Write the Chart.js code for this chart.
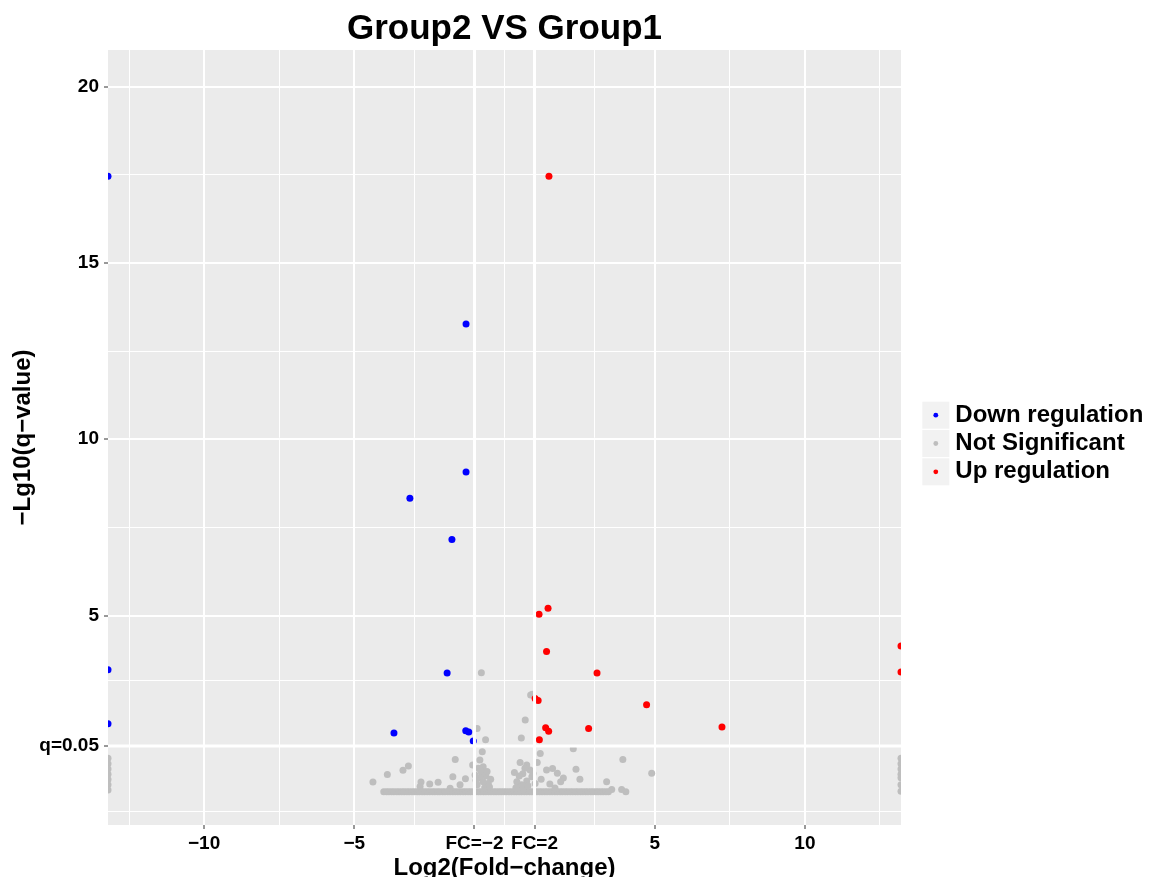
<!DOCTYPE html>
<html>
<head>
<meta charset="utf-8">
<title>Group2 VS Group1</title>
<script src="https://cdn.jsdelivr.net/npm/chart.js@4.4.1/dist/chart.umd.min.js"></script>
<style>
  html, body { margin: 0; padding: 0; background: #fff; }
  canvas { display: block; }
</style>
</head>
<body>
<canvas id="volcano" width="1149" height="877"></canvas>
<script>
const FONT = "'Liberation Sans', Arial, Helvetica, sans-serif";

// axis ranges
const xRange = [-13.2, 13.2];
const yRange = [-0.94, 21.04];

// cut-offs: log2(FC) = +-1 and -log10(0.05)
const fcCutoffs = [-1, 1];
const qCutoff = 1.301;

// tick marks (major carry labels, minor only get a grid line)
const xMajorTicks = [-10, -5, -1, 1, 5, 10];
const xMajorLabels = ['−10', '−5', 'FC=−2', 'FC=2', '5', '10'];
const xMinorTicks = [-12.5, -7.5, -3, 0, 3, 7.5, 12.5];
const yMajorTicks = [1.301, 5, 10, 15, 20];
const yMajorLabels = ['q=0.05', '5', '10', '15', '20'];
const yMinorTicks = [-0.55, 3.15, 7.5, 12.5, 17.5];

// Down regulation
const downX = [-13.2, -1.28, -1.28, -3.15, -1.75, -13.2, -1.91, -13.2, -3.68, -1.29, -1.19, -1.04];
const downY = [17.46, 13.27, 9.07, 8.33, 7.16, 3.46, 3.37, 1.93, 1.67, 1.73, 1.70, 1.44];

// Up regulation
const upX = [1.48, 1.45, 1.15, 1.40, 13.2, 13.2, 3.08, 4.73, 1.02, 1.12, 1.37, 1.47, 2.80, 7.24, 1.16];
const upY = [17.46, 5.21, 5.04, 3.98, 4.14, 3.40, 3.37, 2.47, 2.65, 2.59, 1.82, 1.72, 1.80, 1.84, 1.48];

// Not significant (scattered)
const notSigX = [
  -0.77, 0.87, 0.93, 0.69, -0.91, -0.63, 0.56, 2.29, -0.74, 1.19,
  -1.64, 3.94, 4.90, -3.20, -3.38, -3.90, -4.38, -2.78, -2.49, -2.21,
  -1.72, -1.30, -1.06, -0.82, -0.71, -0.87, -0.76, -0.62, -0.46, -0.54,
  -0.82, -0.98, -0.71, -0.91, -1.48, -1.81, -2.81,
  0.52, 0.74, 1.09, 0.85, 0.68, 0.61, 0.91, 0.41, 0.74, 0.57, 1.02, 0.46,
  1.40, 1.60, 1.76, 1.22, 1.51, 1.96, 1.87, 2.38, 2.51, 3.40, 1.68,
  3.57, 3.90, 4.04,
  -0.58, -0.66, -0.79, -0.95, 0.38, 0.49, 0.63, 0.78, 0.95, -0.50, 0.33,
  -13.2, -13.2, -13.2, -13.2, -13.2, -13.2, -13.2,
  13.2, 13.2, 13.2, 13.2, 13.2, 13.2, 13.2
];
const notSigY = [
  3.38, 2.75, 2.77, 2.04, 1.80, 1.48, 1.53, 1.22, 1.14, 1.09,
  0.92, 0.92, 0.53, 0.73, 0.61, 0.49, 0.28, 0.28, 0.22, 0.27,
  0.43, 0.37, 0.76, 0.90, 0.71, 0.67, 0.51, 0.45, 0.36, 0.24,
  0.39, 0.48, 0.29, 0.20, 0.20, 0.10, 0.15,
  0.83, 0.76, 0.83, 0.62, 0.67, 0.51, 0.43, 0.29, 0.31, 0.20, 0.24, 0.15,
  0.62, 0.66, 0.53, 0.36, 0.22, 0.39, 0.29, 0.64, 0.36, 0.29, 0.11,
  0.07, 0.07, 0.00,
  0.58, 0.12, 0.60, 0.33, 0.12, 0.45, 0.10, 0.17, 0.52, 0.14, 0.55,
  0.95, 0.80, 0.65, 0.50, 0.35, 0.20, 0.05,
  0.95, 0.80, 0.65, 0.50, 0.40, 0.20, 0.02
];

// Not significant: the dense row at q-value ~ 1
const notSigBaseX = [
  -4.02, -3.93, -3.85, -3.76, -3.68, -3.59, -3.51, -3.42, -3.34, -3.25,
  -3.17, -3.08, -3.00, -2.91, -2.83, -2.74, -2.66, -2.57, -2.49, -2.40,
  -2.32, -2.23, -2.15, -2.06, -1.98, -1.89, -1.81, -1.72, -1.64, -1.55,
  -1.47, -1.38, -1.30, -1.21, -1.13, -1.04, -0.96, -0.87, -0.79, -0.70,
  -0.62, -0.53, -0.45, -0.36, -0.28, -0.19, -0.11, -0.02, 0.06, 0.15,
  0.23, 0.32, 0.40, 0.49, 0.57, 0.66, 0.74, 0.83, 0.91, 1.00,
  1.08, 1.17, 1.25, 1.34, 1.42, 1.51, 1.59, 1.68, 1.76, 1.85,
  1.93, 2.02, 2.10, 2.19, 2.27, 2.36, 2.44, 2.53, 2.61, 2.70,
  2.78, 2.87, 2.95, 3.04, 3.12, 3.21, 3.29, 3.38, 3.46
];
const notSigBaseY = 0;

function points(xs, ys) {
  return xs.map((x, i) => ({ x: x, y: ys[i] }));
}

function buildTicks(major, labels, minor) {
  return major.map((v, i) => ({ value: v, text: labels[i], minor: false }))
    .concat(minor.map(v => ({ value: v, text: '', minor: true })))
    .sort((a, b) => a.value - b.value);
}

const isMinor = c => c.tick && c.tick.minor;

// grey panel and legend key squares
const panelPlugin = {
  id: 'panel',
  beforeDraw(chart) {
    const { ctx, chartArea: a } = chart;
    ctx.save();
    ctx.fillStyle = '#FFFFFF';
    ctx.fillRect(0, 0, chart.width, chart.height);
    ctx.fillStyle = '#EBEBEB';
    ctx.fillRect(a.left, a.top, a.right - a.left, a.bottom - a.top);
    ctx.fillStyle = '#F2F2F2';
    (chart.legend.legendHitBoxes || []).forEach(hb => {
      ctx.fillRect(hb.left + 7.5 - 13.5, hb.top + 12 - 13.5, 27, 27);
    });
    ctx.restore();
  }
};

function cutLine(data) {
  return {
    data: data,
    showLine: true,
    borderColor: '#FFFFFF',
    borderWidth: 3,
    pointRadius: 0,
    pointHoverRadius: 0,
    order: 0
  };
}

const dotStyle = color => ({
  backgroundColor: color,
  borderColor: color,
  borderWidth: 0,
  pointRadius: 3.5,
  pointHoverRadius: 3.5,
  pointStyle: 'circle'
});

Chart.defaults.font.family = FONT;
Chart.defaults.color = '#000000';

new Chart(document.getElementById('volcano'), {
  type: 'scatter',
  data: {
    datasets: [
      Object.assign({ label: 'Down regulation', data: points(downX, downY), order: 2 }, dotStyle('#0000FF')),
      Object.assign({
        label: 'Not Significant',
        data: points(notSigBaseX, notSigBaseX.map(() => notSigBaseY)).concat(points(notSigX, notSigY)),
        order: 3
      }, dotStyle('#BEBEBE')),
      Object.assign({ label: 'Up regulation', data: points(upX, upY), order: 1 }, dotStyle('#FF0000')),
      cutLine([{ x: fcCutoffs[0], y: yRange[0] }, { x: fcCutoffs[0], y: yRange[1] }]),
      cutLine([{ x: fcCutoffs[1], y: yRange[0] }, { x: fcCutoffs[1], y: yRange[1] }]),
      cutLine([{ x: xRange[0], y: qCutoff }, { x: xRange[1], y: qCutoff }])
    ]
  },
  options: {
    responsive: false,
    devicePixelRatio: 1,
    animation: false,
    events: [],
    layout: { padding: { top: 10, left: 0, right: 0, bottom: 0 } },
    scales: {
      x: {
        type: 'linear',
        min: xRange[0],
        max: xRange[1],
        afterBuildTicks: s => { s.ticks = buildTicks(xMajorTicks, xMajorLabels, xMinorTicks); },
        afterFit: s => { s.height = 52; },
        border: { display: false },
        grid: {
          color: '#FFFFFF',
          lineWidth: c => isMinor(c) ? 1 : 2,
          tickLength: 4,
          tickWidth: 1,
          tickColor: c => isMinor(c) ? 'rgba(0,0,0,0)' : '#333333'
        },
        ticks: {
          autoSkip: false,
          maxRotation: 0,
          padding: 3,
          color: '#000000',
          font: { size: 19, weight: 'bold' },
          callback: (v, i, t) => t[i].text
        },
        title: {
          display: true,
          text: 'Log2(Fold−change)',
          color: '#000000',
          font: { size: 24, weight: 'bold', lineHeight: 0.75 },
          padding: { top: 0, bottom: 0 }
        }
      },
      y: {
        type: 'linear',
        min: yRange[0],
        max: yRange[1],
        afterBuildTicks: s => { s.ticks = buildTicks(yMajorTicks, yMajorLabels, yMinorTicks); },
        afterFit: s => { s.width = 108; },
        border: { display: false },
        grid: {
          color: '#FFFFFF',
          lineWidth: c => isMinor(c) ? 1 : 2,
          tickLength: 4,
          tickWidth: 1,
          tickColor: c => isMinor(c) ? 'rgba(0,0,0,0)' : '#333333'
        },
        ticks: {
          autoSkip: false,
          padding: 5,
          color: '#000000',
          font: { size: 19, weight: 'bold' },
          callback: (v, i, t) => t[i].text
        },
        title: {
          display: true,
          text: '−Lg10(q−value)',
          color: '#000000',
          font: { size: 24, weight: 'bold' },
          padding: { top: 9.3, bottom: 0 }
        }
      },
      // empty strip between panel and legend
      gap: {
        type: 'linear',
        axis: 'y',
        position: 'right',
        display: true,
        border: { display: false },
        grid: { display: false, drawTicks: false },
        ticks: { display: false },
        afterFit: s => { s.width = 23; }
      }
    },
    plugins: {
      title: {
        display: true,
        text: 'Group2 VS Group1',
        fullSize: false,
        color: '#000000',
        font: { size: 35, weight: 'bold', lineHeight: 1 },
        padding: { top: 1.7, bottom: 3.3 }
      },
      legend: {
        position: 'right',
        align: 'center',
        maxWidth: 225,
        labels: {
          usePointStyle: true,
          boxWidth: 15,
          boxHeight: 3.4,
          padding: 4.3,
          color: '#000000',
          font: { size: 24, weight: 'bold' },
          filter: item => item.datasetIndex < 3,
          sort: (a, b) => a.datasetIndex - b.datasetIndex
        }
      },
      tooltip: { enabled: false }
    }
  },
  plugins: [panelPlugin]
});
</script>
</body>
</html>
